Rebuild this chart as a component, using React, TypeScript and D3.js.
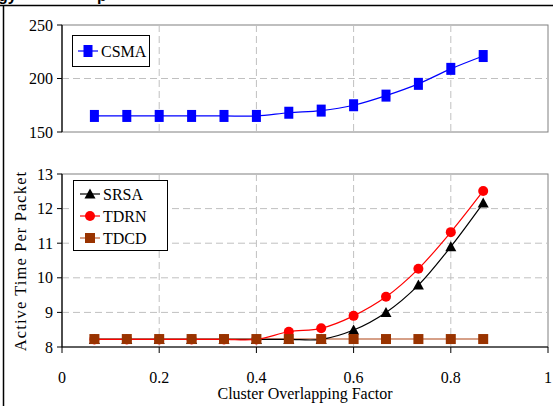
import React from 'react';
import * as d3 from 'd3';

// overlapping factor, i/15
const factors = [1, 2, 3, 4, 5, 6, 7, 8, 9, 10, 11, 12, 13].map(i => i / 15);

const csma = [165, 165, 165, 165, 165, 165, 168, 170, 175, 184, 195, 209, 221];
const srsa = [8.22, 8.22, 8.22, 8.22, 8.22, 8.22, 8.22, 8.22, 8.49, 9.0, 9.79, 10.9, 12.16];
const tdrn = [8.22, 8.22, 8.22, 8.22, 8.22, 8.22, 8.44, 8.54, 8.9, 9.45, 10.26, 11.32, 12.51];
const tdcd = [8.23, 8.23, 8.23, 8.23, 8.23, 8.23, 8.23, 8.23, 8.23, 8.23, 8.23, 8.23, 8.23];

const xTicks = [0, 0.2, 0.4, 0.6, 0.8, 1];
const xTickLabels = ['0', '0.2', '0.4', '0.6', '0.8', '1'];
const topTicks = [150, 200, 250];
const bottomTicks = [8, 9, 10, 11, 12, 13];

const W = 553;
const H = 406;
const font = '"Liberation Serif", "Times New Roman", serif';

const left = 62;
const right = 548;
const x = d3.scaleLinear().domain([0, 1]).range([left, right]);
const yTop = d3.scaleLinear().domain([150, 250]).range([132, 25]);
const yBot = d3.scaleLinear().domain([8, 13]).range([347, 174]);

const lineGen = (ys: number[], y: d3.ScaleLinear<number, number>) =>
  d3.line<number>()
    .x((_, i) => x(factors[i]))
    .y(d => y(d))
    .curve(d3.curveCatmullRom.alpha(0.5))(ys) || '';

const Square = ({ cx, cy, w, h, fill }: any) => (
  <rect x={cx - w / 2} y={cy - h / 2} width={w} height={h} fill={fill} />
);
const Tri = ({ cx, cy }: any) => (
  <path d={`M${cx},${cy - 5.5} L${cx + 5.5},${cy + 4.5} L${cx - 5.5},${cy + 4.5} Z`} fill="#000" />
);

export default function App() {
  const grid = '#c0c0c0';
  const dash = '7,4';
  return (
    <svg width={W} height={H} style={{ position: 'absolute', left: 0, top: 0, background: '#fff' }}>
      {/* cropped title fragments */}
      <text x={-2} y={1} fontFamily="Arial, sans-serif" fontWeight="bold" fontSize={16}>gy</text>
      <text x={97} y={1} fontFamily="Arial, sans-serif" fontWeight="bold" fontSize={16}>p</text>
      {/* outer frame */}
      <line x1={0} x2={W} y1={5.5} y2={5.5} stroke="#000" strokeWidth={1.5} />
      <line x1={3.5} x2={3.5} y1={5} y2={H} stroke="#000" strokeWidth={1.5} />

      {/* ---- top panel ---- */}
      <rect x={left} y={yTop(250)} width={right - left} height={yTop(150) - yTop(250)} fill="none" stroke="#808080" />
      {xTicks.slice(1, -1).map(t => (
        <line key={t} x1={x(t)} x2={x(t)} y1={yTop(250)} y2={yTop(150)} stroke={grid} strokeDasharray={dash} />
      ))}
      <line x1={left} x2={right} y1={yTop(200)} y2={yTop(200)} stroke={grid} strokeDasharray={dash} />
      <line x1={left} x2={left} y1={yTop(250)} y2={yTop(150)} stroke="#000" strokeWidth={1.2} />
      {topTicks.map(t => (
        <g key={t}>
          <line x1={left - 5} x2={left} y1={yTop(t)} y2={yTop(t)} stroke="#000" />
          <text x={left - 9} y={yTop(t)} dy="0.35em" textAnchor="end" fontFamily={font} fontSize={16}>{t}</text>
        </g>
      ))}
      <path d={lineGen(csma, yTop)} fill="none" stroke="#0000ff" strokeWidth={1.2} />
      {csma.map((v, i) => <Square key={i} cx={x(factors[i])} cy={yTop(v)} w={9} h={12} fill="#0000ff" />)}
      <rect x={72.5} y={35.5} width={77} height={31} fill="#fff" stroke="#000" />
      <line x1={78} x2={98} y1={51} y2={51} stroke="#0000ff" strokeWidth={1.2} />
      <Square cx={88} cy={51} w={9} h={12} fill="#0000ff" />
      <text x={101} y={51} dy="0.35em" fontFamily={font} fontSize={16}>CSMA</text>

      {/* ---- bottom panel ---- */}
      <rect x={left} y={yBot(13)} width={right - left} height={yBot(8) - yBot(13)} fill="none" stroke="#808080" />
      {xTicks.slice(1, -1).map(t => (
        <line key={t} x1={x(t)} x2={x(t)} y1={yBot(13)} y2={yBot(8)} stroke={grid} strokeDasharray={dash} />
      ))}
      {bottomTicks.slice(1, -1).map(t => (
        <line key={t} x1={left} x2={right} y1={yBot(t)} y2={yBot(t)} stroke={grid} strokeDasharray={dash} />
      ))}
      <line x1={left} x2={left} y1={yBot(13)} y2={yBot(8)} stroke="#000" strokeWidth={1.2} />
      <line x1={left} x2={right} y1={yBot(8)} y2={yBot(8)} stroke="#000" strokeWidth={1.2} />
      {bottomTicks.map(t => (
        <g key={t}>
          <line x1={left - 5} x2={left} y1={yBot(t)} y2={yBot(t)} stroke="#000" />
          <text x={left - 9} y={yBot(t)} dy="0.35em" textAnchor="end" fontFamily={font} fontSize={16}>{t}</text>
        </g>
      ))}
      {xTicks.map((t, i) => (
        <g key={t}>
          <line x1={x(t)} x2={x(t)} y1={yBot(8)} y2={yBot(8) + 6} stroke="#000" />
          <text x={x(t)} y={377} dy="0.35em" textAnchor="middle" fontFamily={font} fontSize={16}>{xTickLabels[i]}</text>
        </g>
      ))}
      <text x={305} y={393} dy="0.35em" textAnchor="middle" fontFamily={font} fontSize={16}>Cluster Overlapping Factor</text>
      <text transform={`translate(20,261) rotate(-90)`} dy="0.35em" textAnchor="middle" fontFamily={font} fontSize={16.5} letterSpacing={1.1}>Active Time Per Packet</text>

      <path d={lineGen(tdcd, yBot)} fill="none" stroke="#c88060" strokeWidth={1.5} />
      <path d={lineGen(srsa, yBot)} fill="none" stroke="#000" strokeWidth={1.2} />
      <path d={lineGen(tdrn, yBot)} fill="none" stroke="#ff0000" strokeWidth={1.2} />
      {srsa.map((v, i) => <Tri key={i} cx={x(factors[i])} cy={yBot(v)} />)}
      {tdrn.map((v, i) => <circle key={i} cx={x(factors[i])} cy={yBot(v)} r={5} fill="#ff0000" />)}
      {tdcd.map((v, i) => <Square key={i} cx={x(factors[i])} cy={yBot(v)} w={10} h={10} fill="#993300" />)}

      <rect x={73.5} y={180.5} width={94} height={70} fill="#fff" stroke="#000" />
      <line x1={80} x2={100} y1={194} y2={194} stroke="#000" strokeWidth={1.2} />
      <Tri cx={90} cy={194} />
      <text x={103} y={194} dy="0.35em" fontFamily={font} fontSize={16}>SRSA</text>
      <line x1={80} x2={100} y1={216} y2={216} stroke="#ff0000" strokeWidth={1.2} />
      <circle cx={90} cy={216} r={5} fill="#ff0000" />
      <text x={103} y={216} dy="0.35em" fontFamily={font} fontSize={16}>TDRN</text>
      <line x1={80} x2={100} y1={238} y2={238} stroke="#c88060" strokeWidth={1.5} />
      <Square cx={90} cy={238} w={10} h={10} fill="#993300" />
      <text x={103} y={238} dy="0.35em" fontFamily={font} fontSize={16}>TDCD</text>
    </svg>
  );
}
